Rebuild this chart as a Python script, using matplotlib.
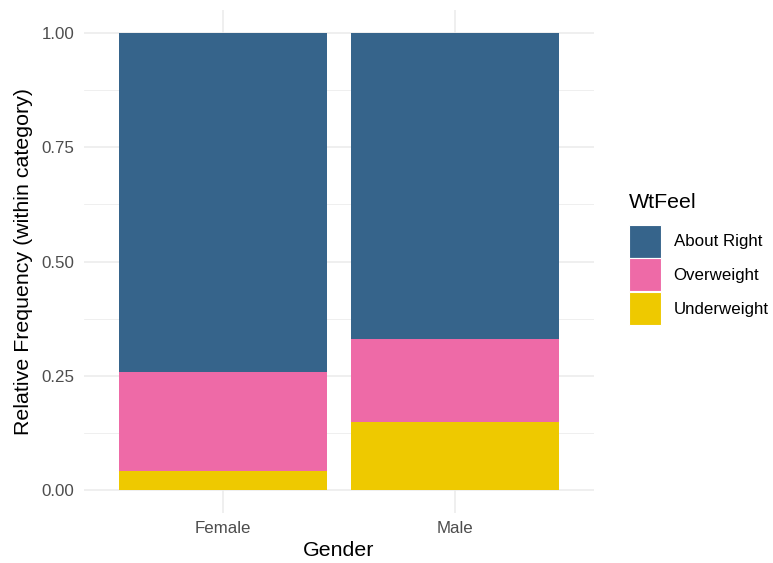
import matplotlib
matplotlib.use("Agg")
import matplotlib.pyplot as plt
from matplotlib.patches import Patch
import numpy as np

plt.rcParams['font.family'] = ['Liberation Sans', 'DejaVu Sans']

genders = ["Female", "Male"]
categories = ["About Right", "Overweight", "Underweight"]
underweight = [0.042, 0.149]
overweight = [0.216, 0.181]
about_right = [1 - u - o for u, o in zip(underweight, overweight)]
colors = {"About Right": "#36648B", "Overweight": "#EE6AA7", "Underweight": "#EEC900"}

W, H = 773, 563
fig = plt.figure(figsize=(W / 100, H / 100), dpi=100)
left, right, top, bottom = 84, 594, 10, 513
ax = fig.add_axes([left / W, 1 - bottom / H, (right - left) / W, (bottom - top) / H])

x = np.arange(len(genders))
ax.bar(x, underweight, width=0.9, color=colors["Underweight"], zorder=2)
ax.bar(x, overweight, width=0.9, bottom=underweight, color=colors["Overweight"], zorder=2)
bottom2 = [u + o for u, o in zip(underweight, overweight)]
ax.bar(x, about_right, width=0.9, bottom=bottom2, color=colors["About Right"], zorder=2)

ax.set_xlim(-0.6, 1.6)
ax.set_ylim(-0.05, 1.05)
ax.set_xticks(x)
ax.set_xticklabels(genders)
ax.set_yticks([0, 0.25, 0.5, 0.75, 1.0])
ax.set_yticklabels(["0.00", "0.25", "0.50", "0.75", "1.00"])
ax.set_yticks([0.125, 0.375, 0.625, 0.875], minor=True)
ax.grid(True, which='major', color='#EBEBEB', linewidth=1.1, zorder=0)
ax.grid(True, which='minor', axis='y', color='#EBEBEB', linewidth=0.55, zorder=0)
for s in ax.spines.values():
    s.set_visible(False)
ax.tick_params(axis='both', which='both', length=0, labelsize=12.2, labelcolor='#4D4D4D')
ax.tick_params(axis='y', pad=7)
ax.tick_params(axis='x', pad=6)
ax.set_xlabel("Gender", fontsize=15.4, color='black', labelpad=3)
ax.set_ylabel("Relative Frequency (within category)", fontsize=15.4, color='black', labelpad=6)

fig.text(629 / W, 1 - 203 / H, "WtFeel", fontsize=15.4, color='black', ha='left', va='center')
handles = [Patch(facecolor=colors[c], edgecolor='white', linewidth=0.8) for c in categories]
leg = fig.legend(handles, categories, loc='upper left',
                 bbox_to_anchor=(622 / W, 1 - 218 / H), frameon=False,
                 fontsize=12.2, handlelength=1.9, handleheight=2.62,
                 handletextpad=0.75, labelspacing=0.04, borderaxespad=0)

fig.savefig("out.png", dpi=100)
